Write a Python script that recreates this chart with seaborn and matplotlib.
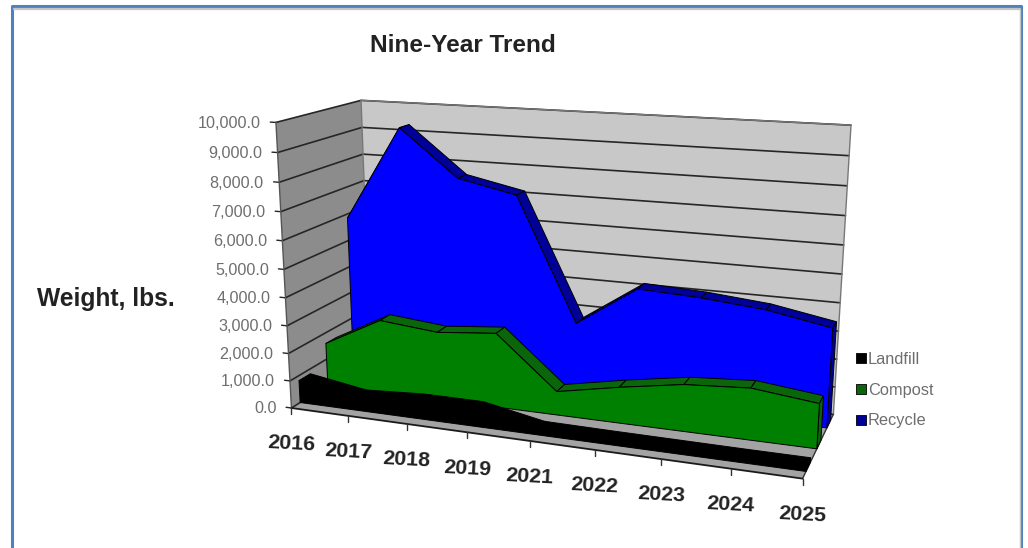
import numpy as np
import matplotlib
matplotlib.use("Agg")
import matplotlib.pyplot as plt
import seaborn as sns

years = ["2016", "2017", "2018", "2019", "2021", "2022", "2023", "2024", "2025"]
landfill = [820, 480, 610, 610, 190, 170, 160, 150, 150]
compost = [1600, 2700, 2500, 2700, 850, 1280, 1650, 1800, 1550]
recycle = [5850, 9300, 7620, 7170, 2730, 4200, 4100, 3900, 3500]
y_ticks = [0, 1000, 2000, 3000, 4000, 5000, 6000, 7000, 8000, 9000, 10000]

# kolor: on yuz, ust yuz
series = [
    ("Recycle", recycle, "#0000ff", "#000099", 0.767),
    ("Compost", compost, "#008000", "#0b660b", 0.433),
    ("Landfill", landfill, "#000000", "#000000", 0.10),
]
depth_band = 0.133
y_max = 10000

# kose noktalari -> piksel, 3d kutu icin projeksiyon
corners = [
    ((0, 0, 0), (291, 408)), ((1, 0, 0), (803, 478)), ((0, 1, 0), (276, 123)),
    ((0, 0, 1), (371, 358)), ((1, 0, 1), (833, 415)), ((0, 1, 1), (361, 100)),
    ((1, 1, 1), (851, 125)),
]
rows = []
for (u, v, w), (px, py) in corners:
    rows.append([u, v, w, 1, 0, 0, 0, 0, -px * u, -px * v, -px * w, -px])
    rows.append([0, 0, 0, 0, u, v, w, 1, -py * u, -py * v, -py * w, -py])
P = np.linalg.svd(np.array(rows, float))[2][-1].reshape(3, 4)


def project(u, val, w):
    p = P @ np.array([u, val / y_max, w, 1.0])
    return p[0] / p[2], p[1] / p[2]


def poly(points):
    return list(zip(*[project(*p) for p in points]))


sns.set_theme(style="white", font="Liberation Sans")
fig = plt.figure(figsize=(10.28, 5.48), dpi=100, facecolor="white")
ax = fig.add_axes([0, 0, 1, 1])
ax.set_xlim(0, 1028)
ax.set_ylim(548, 0)
ax.set_axis_off()

# dis cerceve
ax.plot([12, 12, 1021, 1021], [548, 6, 6, 548], color="#4f81bd", lw=2.2, zorder=1)
ax.plot([14, 1019.5], [9, 9], color="#c4c4c4", lw=1.6, zorder=1)
ax.plot([1019.5, 1019.5], [9, 548], color="#c4c4c4", lw=1, zorder=1)

z = 2
# duvarlar ve taban
ax.fill(*poly([(0, 0, 0), (0, y_max, 0), (0, y_max, 1), (0, 0, 1)]), color="#8c8c8c", lw=0, zorder=z)
ax.fill(*poly([(0, 0, 1), (0, y_max, 1), (1, y_max, 1), (1, 0, 1)]), color="#c8c8c8", lw=0, zorder=z)
ax.fill(*poly([(0, 0, 0), (1, 0, 0), (1, 0, 1), (0, 0, 1)]), color="#a3a3a3", lw=0, zorder=z)

# izgara cizgileri
for t in y_ticks:
    xs, ys = poly([(0, t, 0), (0, t, 1), (1, t, 1)])
    sns.lineplot(x=list(xs), y=list(ys), sort=False, estimator=None, color="#262626", lw=1.2, ax=ax, zorder=3)
    xs, ys = poly([(-0.012, t, 0), (0, t, 0)])
    ax.plot(xs, ys, color="#262626", lw=1, zorder=3)
    px, py = project(-0.02, t, 0)
    ax.text(px - 6, py + 2, f"{t:,.1f}", ha="right", va="center", fontsize=11.6, color="#6e6e6e", zorder=9)

# kenarlar
for pts, c in [
    ([(0, 0, 0), (0, y_max, 0)], "#555555"),
    ([(0, y_max, 1), (1, y_max, 1), (1, 0, 1)], "#777777"),
    ([(0, 0, 1), (0, y_max, 1)], "#777777"),
    ([(1, 0, 0), (1, 0, 1)], "#333333"),
]:
    ax.plot(*poly(pts), color=c, lw=1, zorder=3)

# seriler: arkadan one
n = len(years)
u_pos = np.arange(n) / (n - 1)
z = 4
for name, vals, front, top, w0 in series:
    w1 = w0 + depth_band
    for i in range(n - 1):
        ax.fill(*poly([(u_pos[i], vals[i], w0), (u_pos[i + 1], vals[i + 1], w0),
                       (u_pos[i + 1], vals[i + 1], w1), (u_pos[i], vals[i], w1)]),
                facecolor=top, edgecolor="black", lw=0.7, zorder=z)
    # sag kapak
    ax.fill(*poly([(1, 0, w0), (1, vals[-1], w0), (1, vals[-1], w1), (1, 0, w1)]),
            facecolor=top, edgecolor="black", lw=0.7, zorder=z)
    outline = [(0, 0, w0)] + [(u_pos[i], vals[i], w0) for i in range(n)] + [(1, 0, w0)]
    ax.fill(*poly(outline), facecolor=front, edgecolor="black", lw=0.7, zorder=z + 1)
    z += 2

# on kenar ve x etiketleri
ax.plot(*poly([(0, 0, 0), (1, 0, 0)]), color="#1a1a1a", lw=1.3, zorder=z)
for i, yr in enumerate(years):
    px, py = project(u_pos[i], 0, 0)
    ax.plot([px, px], [py, py + 6], color="#333333", lw=1, zorder=z)
    ax.text(px, py + 36, yr, ha="center", va="center", fontsize=15.4, fontweight="bold",
            color="#222222", rotation=-3, zorder=z)

ax.text(463, 46, "Nine-Year Trend", ha="center", va="center", fontsize=17.6, fontweight="bold", color="#222222")
ax.text(105.5, 299, "Weight, lbs.", ha="center", va="center", fontsize=17.7, fontweight="bold", color="#222222")

# lejant
legend_items = [("Landfill", "#000000", 358), ("Compost", "#0b660b", 389), ("Recycle", "#000099", 420)]
for name, col, ly in legend_items:
    ax.scatter([861], [ly], marker="s", s=52, color=col, edgecolor="black", lw=0.6, zorder=z)
    ax.text(868, ly + 1, name, ha="left", va="center", fontsize=11.8, color="#6e6e6e", zorder=z)

fig.savefig("out.png", dpi=100)
